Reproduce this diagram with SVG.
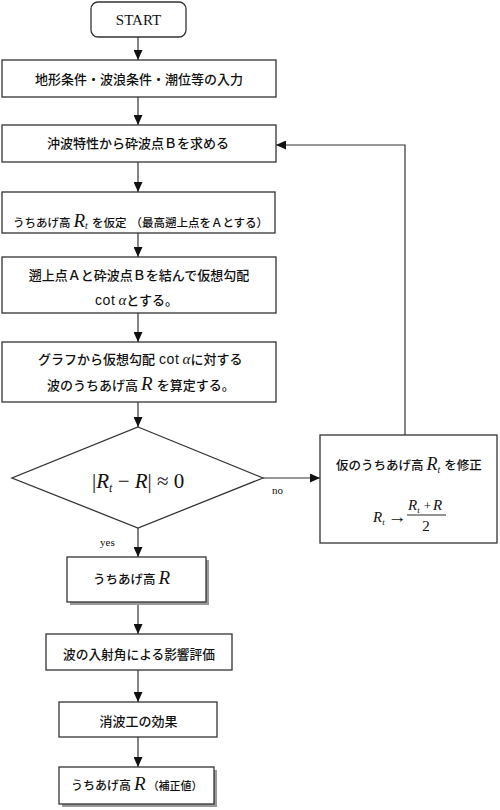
<svg xmlns="http://www.w3.org/2000/svg" width="500" height="810" viewBox="0 0 500 810">
<style>
.box{fill:#fff;stroke:#333;stroke-width:1.3}
.shadow{fill:#9a9a9a}
.jp{font-family:"Noto Sans CJK JP","Noto Sans",sans-serif;font-weight:500;fill:#111}
.m{font-family:"Liberation Serif",serif;font-style:italic;font-weight:normal}
.s{font-family:"Liberation Serif",serif;fill:#111}
.sa{font-family:"Liberation Sans",sans-serif;font-weight:normal;letter-spacing:0.6px}
.ln{fill:none;stroke:#333;stroke-width:1.2}
</style>
<defs>
<marker id="ah" markerUnits="userSpaceOnUse" markerWidth="10" markerHeight="9" refX="10" refY="4.5" orient="auto">
<path d="M0,0 L10,4.5 L0,9 z" fill="#111"/>
</marker>
</defs>
<rect width="500" height="810" fill="#fff"/>

<g id="connectors">
<line class="ln" x1="138" y1="37" x2="138" y2="60" marker-end="url(#ah)"/>
<line class="ln" x1="138" y1="97" x2="138" y2="125" marker-end="url(#ah)"/>
<line class="ln" x1="138" y1="162" x2="138" y2="192" marker-end="url(#ah)"/>
<line class="ln" x1="138" y1="233" x2="138" y2="257" marker-end="url(#ah)"/>
<line class="ln" x1="138" y1="313" x2="138" y2="342" marker-end="url(#ah)"/>
<line class="ln" x1="138" y1="402" x2="138" y2="427" marker-end="url(#ah)"/>
<line class="ln" x1="138" y1="528" x2="138" y2="557" marker-end="url(#ah)"/>
<line class="ln" x1="138" y1="602" x2="138" y2="634" marker-end="url(#ah)"/>
<line class="ln" x1="138" y1="670" x2="138" y2="702" marker-end="url(#ah)"/>
<line class="ln" x1="138" y1="737" x2="138" y2="767" marker-end="url(#ah)"/>
<line class="ln" x1="263" y1="478" x2="320" y2="478" marker-end="url(#ah)"/>
<polyline class="ln" points="405,435 405,145 276,145" marker-end="url(#ah)"/>
<text class="s" x="272" y="494" font-size="11">no</text>
<text class="s" x="100" y="546" font-size="11">yes</text>
</g>

<g id="start">
<rect class="box" x="91" y="2" width="95" height="35" rx="7"/>
<text class="s" x="138.5" y="25" font-size="15" text-anchor="middle">START</text>
</g>

<g id="input">
<rect class="box" x="2" y="60" width="274" height="37"/>
<text class="jp" x="139" y="84" font-size="13" text-anchor="middle">地形条件・波浪条件・潮位等の入力</text>
</g>

<g id="breakpoint">
<rect class="box" x="2" y="125" width="274" height="37"/>
<text class="jp" x="138" y="148" font-size="13" text-anchor="middle">沖波特性から砕波点Ｂを求める</text>
</g>

<g id="assume">
<rect class="box" x="2" y="192" width="273" height="41"/>
<text class="jp" x="13" y="227" font-size="11.5">うちあげ高<tspan class="m" dx="3" font-size="19">R</tspan><tspan class="m" font-size="10" dy="2">t</tspan><tspan dx="4" dy="-2">を仮定</tspan><tspan dx="4">（最高遡上点をＡとする）</tspan></text>
</g>

<g id="slope">
<rect class="box" x="2" y="257" width="274" height="56"/>
<text class="jp" x="139" y="280" font-size="13" text-anchor="middle">遡上点Ａと砕波点Ｂを結んで仮想勾配</text>
<text class="jp" x="95" y="305" font-size="13"><tspan class="sa" font-size="14">cot</tspan><tspan class="m" dx="3" font-size="15">α</tspan><tspan>とする。</tspan></text>
</g>

<g id="graph">
<rect class="box" x="2" y="342" width="274" height="60"/>
<text class="jp" x="38" y="364" font-size="13">グラフから仮想勾配<tspan class="sa" dx="4" font-size="14">cot</tspan><tspan class="m" dx="3" font-size="15">α</tspan><tspan>に対する</tspan></text>
<text class="jp" x="47" y="390" font-size="13">波のうちあげ高<tspan class="m" dx="3" font-size="19">R</tspan><tspan dx="4">を算定する。</tspan></text>
</g>

<g id="decision">
<polygon class="box" points="138,427 263,478 138,528 12,478"/>
<text class="s" x="92" y="488" font-size="21">|<tspan class="m">R</tspan><tspan class="m" font-size="12" dy="4">t</tspan><tspan dy="-4"> − </tspan><tspan class="m">R</tspan>| ≈ 0</text>
</g>

<g id="correct">
<rect class="box" x="320" y="435" width="177" height="108"/>
<text class="jp" x="336" y="470" font-size="12.5">仮のうちあげ高<tspan class="m" dx="3" font-size="18">R</tspan><tspan class="m" font-size="10" dy="3">t</tspan><tspan dx="4" dy="-3">を修正</tspan></text>
<text class="s" x="373" y="522" font-size="15"><tspan class="m">R</tspan><tspan class="m" font-size="9" dy="3">t</tspan><tspan dx="3" dy="-2" font-size="19">→</tspan></text>
<text class="s" x="408" y="510" font-size="15"><tspan class="m">R</tspan><tspan class="m" font-size="9" dy="3">t</tspan><tspan dx="4" dy="-3" font-size="13">+</tspan><tspan class="m" dx="2">R</tspan></text>
<line x1="407" y1="515" x2="446" y2="515" stroke="#111" stroke-width="0.9"/>
<text class="s" x="426" y="531" font-size="15" text-anchor="middle">2</text>
</g>

<g id="runup">
<rect class="shadow" x="70" y="560" width="139" height="45"/>
<rect class="box" x="67" y="557" width="139" height="45"/>
<text class="jp" x="93" y="584" font-size="12.5">うちあげ高<tspan class="m" dx="3" font-size="19">R</tspan></text>
</g>

<g id="angle">
<rect class="box" x="46" y="634" width="186" height="36"/>
<text class="jp" x="139" y="659" font-size="12.7" text-anchor="middle">波の入射角による影響評価</text>
</g>

<g id="dissipation">
<rect class="box" x="59" y="702" width="158" height="35"/>
<text class="jp" x="138.5" y="726" font-size="13" text-anchor="middle">消波工の効果</text>
</g>

<g id="final">
<rect class="shadow" x="62" y="770" width="155" height="37"/>
<rect class="box" x="59" y="767" width="155" height="37"/>
<text class="jp" x="71" y="790" font-size="12">うちあげ高<tspan class="m" dx="3" font-size="19">R</tspan><tspan dx="2" font-size="11">（補正値）</tspan></text>
</g>
</svg>
